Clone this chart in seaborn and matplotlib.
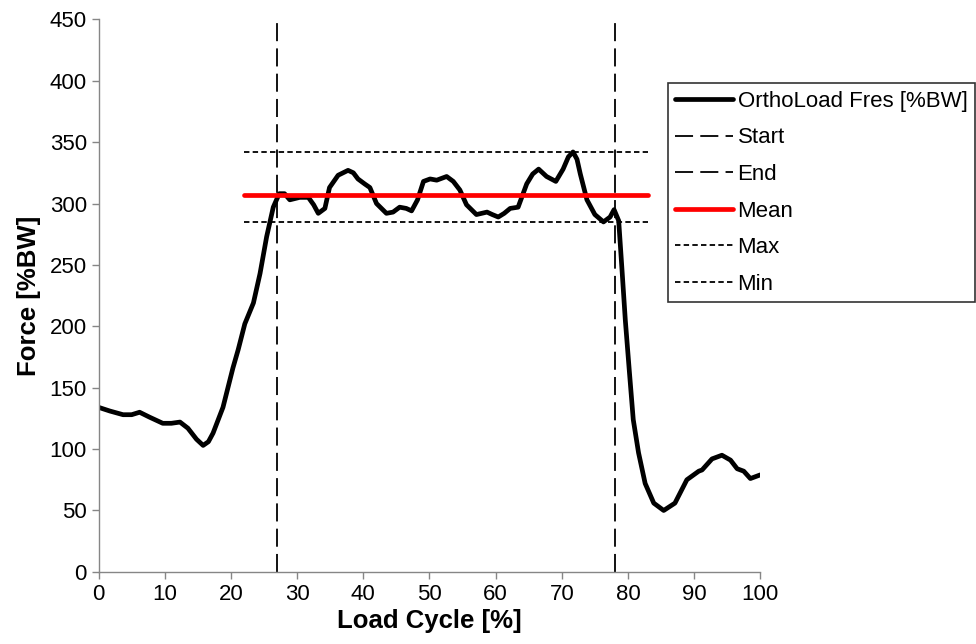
import numpy as np
import pandas as pd
import matplotlib
matplotlib.use('Agg')
import matplotlib.pyplot as plt
import seaborn as sns

# load cycle [%] and resultant force [%BW]
cycle = [0, 1.7, 3.7, 5.0, 6.2, 7.7, 9.7, 11.0, 12.3, 13.5, 14.8, 15.8, 16.6,
         17.3, 18.8, 20.3, 21.1, 22.1, 23.4, 24.4, 25.4, 26.4, 27.3, 28.1, 28.9,
         30.4, 31.7, 32.5, 33.2, 34.2, 34.9, 36.2, 37.7, 38.5, 39.2, 40.2, 41.0,
         42.0, 43.5, 44.5, 45.5, 46.5, 47.3, 48.2, 49.1, 50.1, 51.1, 52.6, 53.6,
         54.6, 55.6, 57.1, 58.7, 59.5, 60.4, 61.3, 62.2, 63.4, 64.7, 65.6, 66.5,
         67.7, 69.1, 70.2, 71.0, 71.7, 72.3, 72.8, 73.8, 75.0, 76.3, 77.3, 77.9,
         78.6, 79.1, 79.6, 80.2, 80.8, 81.6, 82.6, 83.9, 85.4, 87.1, 88.9, 90.7,
         91.2, 92.7, 94.2, 95.5, 96.5, 97.5, 98.5, 100]
force = [134, 131, 128, 128, 130, 126, 121, 121, 122, 117, 108, 103, 106,
         113, 134, 166, 181, 202, 219, 243, 273, 297, 308, 308, 303,
         305, 305, 299, 292, 296, 313, 323, 327, 325, 320, 316, 313,
         300, 292, 293, 297, 296, 294, 303, 318, 320, 319, 322, 318,
         311, 299, 291, 293, 291, 289, 292, 296, 297, 316, 324, 328,
         322, 318, 328, 338, 342, 336, 324, 303, 291, 285, 289, 295,
         286, 246, 205, 164, 124, 97, 72, 56, 50, 56, 75, 82,
         83, 92, 95, 91, 84, 82, 76, 79]

start_end = [27, 78]
band_x = [22, 83]
mean_val = 307
max_val = 342
min_val = 285

df = pd.DataFrame({'cycle': cycle, 'force': force})

sns.set_style('ticks')
plt.rcParams['font.family'] = ['Liberation Sans', 'DejaVu Sans']
plt.rcParams['text.color'] = 'black'
plt.rcParams['axes.labelcolor'] = 'black'

fig, ax = plt.subplots(figsize=(9.76, 6.44), dpi=100)
fig.subplots_adjust(left=0.101, right=0.779, bottom=0.112, top=0.970)

sns.lineplot(data=df, x='cycle', y='force', color='black', linewidth=3.4,
             estimator=None, sort=False, ax=ax, label='OrthoLoad Fres [%BW]')
ax.lines[0].set_solid_joinstyle('round')

ax.axvline(start_end[0], color='black', linewidth=1.3, dashes=(10, 4), label='Start')
ax.axvline(start_end[1], color='black', linewidth=1.3, dashes=(10, 4), label='End')
ax.plot(band_x, [mean_val, mean_val], color='#ff0000', linewidth=3.4,
        solid_capstyle='round', label='Mean')
ax.plot(band_x, [max_val, max_val], color='black', linewidth=1.3, dashes=(3, 1.8), label='Max')
ax.plot(band_x, [min_val, min_val], color='black', linewidth=1.3, dashes=(3, 1.8), label='Min')

ax.set_xlim(0, 100)
ax.set_ylim(0, 450)
ax.set_xticks(np.arange(0, 101, 10))
ax.set_yticks(np.arange(0, 451, 50))
ax.set_xlabel('Load Cycle [%]', fontsize=18.5, fontweight='bold', labelpad=3)
ax.set_ylabel('Force [%BW]', fontsize=18.5, fontweight='bold', labelpad=6)
ax.tick_params(labelsize=16, colors='#868686', labelcolor='black', length=5, width=1)
ax.margins(0)
sns.despine(ax=ax)
for sp in ['left', 'bottom']:
    ax.spines[sp].set_color('#868686')
    ax.spines[sp].set_linewidth(1)

handles, labels = ax.get_legend_handles_labels()
ax.get_legend().remove()
leg = fig.legend(handles, labels, loc='upper left', bbox_to_anchor=(0.684, 0.871),
                 fontsize=16, frameon=True, fancybox=False, handlelength=2.6,
                 handletextpad=0.2, labelspacing=0.7, borderpad=0.35,
                 borderaxespad=0)
leg.get_frame().set_edgecolor('black')
leg.get_frame().set_linewidth(1.2)

plt.savefig('out.png', dpi=100)
plt.close()
